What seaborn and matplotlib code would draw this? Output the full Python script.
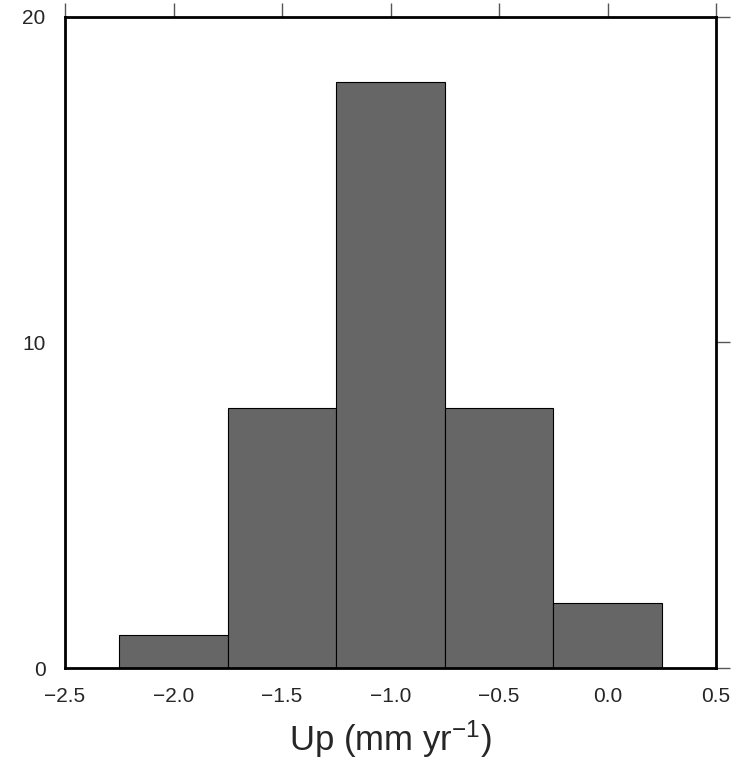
import numpy as np
import matplotlib
matplotlib.use("Agg")
import matplotlib.pyplot as plt
import seaborn as sns

# histogram of vertical velocities (bin centres and counts)
bin_centers = [-2.0, -1.5, -1.0, -0.5, 0.0]
counts = [1, 8, 18, 8, 2]
bin_edges = [-2.25, -1.75, -1.25, -0.75, -0.25, 0.25]
x_ticks = [-2.5, -2.0, -1.5, -1.0, -0.5, 0.0, 0.5]
y_ticks = [0, 10, 20]

sns.set_style("white")
plt.rcParams['font.family'] = ['Liberation Sans', 'DejaVu Sans']
plt.rcParams['mathtext.fontset'] = 'custom'
plt.rcParams['mathtext.rm'] = 'Liberation Sans'
plt.rcParams['mathtext.default'] = 'regular'

fig = plt.figure(figsize=(7.39, 7.61), dpi=100)
ax = fig.add_axes([65/739, 1-668/761, (716-65)/739, (668-17)/761])

sns.histplot(x=bin_centers, weights=counts, bins=bin_edges, ax=ax,
             color='#666666', alpha=1, edgecolor='black', linewidth=0.8)

ax.set_xlim(-2.5, 0.5)
ax.set_ylim(0, 20)
ax.set_xticks(x_ticks)
ax.set_xticklabels([f"{v:.1f}".replace('-', '\u2212') for v in x_ticks])
ax.set_yticks(y_ticks)
ax.set_ylabel('')
ax.set_xlabel(r'Up (mm yr$^{-1}$)', fontsize=25, labelpad=9)

for s in ax.spines.values():
    s.set_visible(True)
    s.set_color('black')
    s.set_linewidth(2)

ax.tick_params(axis='both', direction='out', length=10, width=1, color='#555555',
               labelsize=15, pad=4, top=True, right=True,
               labeltop=False, labelright=False)

fig.savefig('out.png', dpi=100)
